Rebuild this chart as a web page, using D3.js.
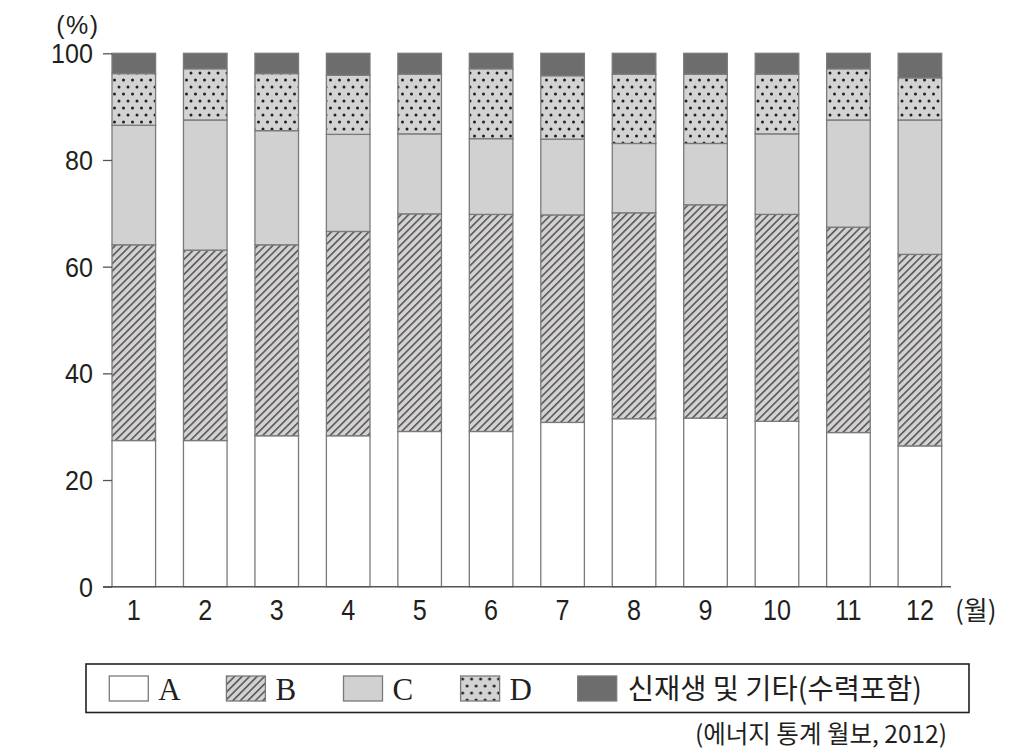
<!DOCTYPE html>
<html>
<head>
<meta charset="utf-8">
<script src="https://cdn.jsdelivr.net/npm/d3@7"></script>
<style>
  body { margin: 0; background: #fff; }
  text { fill: #231f20; }
</style>
</head>
<body>
<div id="chart"></div>
<script>
// monthly share of power generation (%)
const months = ["1", "2", "3", "4", "5", "6", "7", "8", "9", "10", "11", "12"]
const keys = ["A", "B", "C", "D", "E"]
const legendLabels = ["A", "B", "C", "D", "신재생 및 기타(수력포함)"]

const valuesA = [27.4, 27.4, 28.3, 28.3, 29.1, 29.1, 30.8, 31.5, 31.6, 31.0, 28.9, 26.4]
const valuesB = [36.7, 35.7, 35.8, 38.3, 40.8, 40.7, 38.9, 38.6, 40.0, 38.8, 38.5, 35.9]
const valuesC = [22.4, 24.4, 21.4, 18.2, 15.0, 14.2, 14.2, 13.0, 11.5, 15.1, 20.1, 25.2]
const valuesD = [9.7, 9.6, 10.7, 11.1, 11.2, 13.1, 11.9, 13.0, 13.0, 11.2, 9.6, 7.9]
const valuesE = [3.8, 2.9, 3.8, 4.1, 3.9, 2.9, 4.2, 3.9, 3.9, 3.9, 2.9, 4.6]

const yTicks = [0, 20, 40, 60, 80, 100]

const WD = 1024, HT = 756
const plot = { left: 112, right: 941.7, top: 53.3, bottom: 586.7 }
const sans = "Liberation Sans, Arial, sans-serif"
const kor = "Noto Sans CJK KR, sans-serif"

const svg = d3.select("#chart").append("svg")
    .attr("width", WD)
    .attr("height", HT)

// patterns
const defs = svg.append("defs")

const hatch = defs.append("pattern")
    .attr("id", "hatch")
    .attr("patternUnits", "userSpaceOnUse")
    .attr("width", 5.3).attr("height", 5.3)
    .attr("patternTransform", "rotate(45)")
hatch.append("rect").attr("width", 5.3).attr("height", 5.3).attr("fill", "#d2d2d3")
hatch.append("line")
    .attr("x1", 0.8).attr("y1", 0).attr("x2", 0.8).attr("y2", 5.3)
    .attr("stroke", "#231c1e").attr("stroke-width", 1.1)

const dots = defs.append("pattern")
    .attr("id", "dots")
    .attr("patternUnits", "userSpaceOnUse")
    .attr("width", 9).attr("height", 14)
dots.append("rect").attr("width", 9).attr("height", 14).attr("fill", "#d3d3d4")
dots.append("circle").attr("cx", 2).attr("cy", 3).attr("r", 1.5).attr("fill", "#231f20")
dots.append("circle").attr("cx", 6.5).attr("cy", 10).attr("r", 1.5).attr("fill", "#231f20")

const fills = {
  A: "#ffffff",
  B: "url(#hatch)",
  C: "#d1d1d2",
  D: "url(#dots)",
  E: "#6e6d6e"
}

const table = months.map((m, i) => ({
  month: m,
  A: valuesA[i], B: valuesB[i], C: valuesC[i], D: valuesD[i], E: valuesE[i]
}))

const stacked = d3.stack().keys(keys)(table)

const xs = d3.scaleBand()
    .domain(months)
    .range([plot.left, plot.right])
    .paddingInner(0.39)
    .paddingOuter(0)

const ys = d3.scaleLinear().domain([0, 100]).range([plot.bottom, plot.top])

// bars
svg.append("g").selectAll("g")
  .data(stacked)
  .enter().append("g")
    .attr("fill", d => fills[d.key])
  .selectAll("rect")
  .data(d => d)
  .enter().append("rect")
    .attr("x", d => xs(d.data.month))
    .attr("y", d => ys(d[1]))
    .attr("width", xs.bandwidth())
    .attr("height", d => ys(d[0]) - ys(d[1]))
    .attr("stroke", "#7a7a7a")
    .attr("stroke-width", 1.3)

// y axis: ticks only, no spine
const yAxis = svg.append("g")
    .attr("transform", "translate(" + plot.left + ",0)")
    .call(d3.axisLeft(ys).tickValues(yTicks).tickSize(9))
yAxis.select(".domain").remove()
yAxis.selectAll(".tick line").attr("stroke", "#555").attr("stroke-width", 1.3)
yAxis.selectAll(".tick text")
    .attr("x", 0)
    .attr("dy", "0.35em")
    .attr("transform", "translate(-19,0) scale(0.93,1)")
    .attr("font-family", sans)
    .attr("font-size", "27px")
    .attr("fill", "#231f20")

// x axis baseline + labels
svg.append("line")
    .attr("x1", 103).attr("x2", 951)
    .attr("y1", ys(0)).attr("y2", ys(0))
    .attr("stroke", "#555").attr("stroke-width", 1.5)

const xAxis = svg.append("g")
    .attr("transform", "translate(0," + ys(0) + ")")
    .call(d3.axisBottom(xs).tickSize(0).tickPadding(12))
xAxis.select(".domain").remove()
xAxis.selectAll(".tick text")
    .attr("transform", "scale(0.84,1)")
    .attr("font-family", sans)
    .attr("font-size", "30px")
    .attr("fill", "#231f20")

// unit labels
svg.append("text")
    .attr("x", 78).attr("y", 34)
    .attr("text-anchor", "middle")
    .attr("letter-spacing", "1.5px")
    .attr("font-family", sans)
    .attr("font-size", "25px")
    .text("(%)")

svg.append("text")
    .attr("x", 955).attr("y", 620)
    .attr("font-family", kor)
    .attr("font-size", "26px")
    .text("(월)")

// legend
svg.append("rect")
    .attr("x", 86).attr("y", 664)
    .attr("width", 883).attr("height", 48.5)
    .attr("fill", "none")
    .attr("stroke", "#231f20")
    .attr("stroke-width", 1.6)

const lx = d3.scalePoint().domain(keys).range([109.3, 577.7])

const legend = svg.append("g").selectAll("g")
  .data(keys)
  .enter().append("g")
    .attr("transform", d => "translate(" + lx(d) + ",676)")

legend.append("rect")
    .attr("width", 39).attr("height", 25)
    .attr("fill", d => fills[d])
    .attr("stroke", "#7a7a7a")
    .attr("stroke-width", 1.3)

legend.append("text")
    .attr("x", (d, i) => i < 4 ? 49 : 50)
    .attr("y", (d, i) => i < 4 ? 24 : 23)
    .attr("font-family", (d, i) => i < 4 ? "Liberation Serif, Times New Roman, serif" : kor)
    .attr("font-size", (d, i) => i < 4 ? "31px" : "28.5px")
    .text((d, i) => legendLabels[i])

// source
svg.append("text")
    .attr("x", 947).attr("y", 743)
    .attr("text-anchor", "end")
    .attr("font-family", kor)
    .attr("font-size", "24.5px")
    .text("(에너지 통계 월보, 2012)")
</script>
</body>
</html>
